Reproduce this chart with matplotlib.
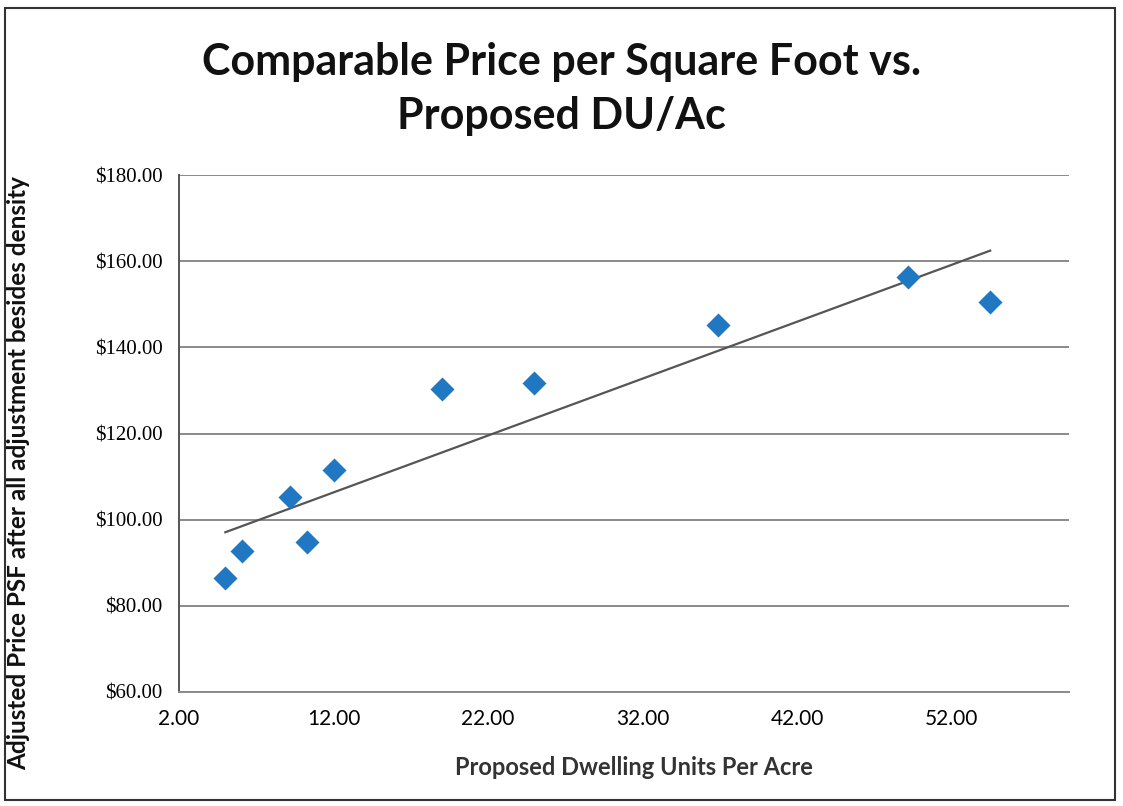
import numpy as np
import matplotlib
matplotlib.use("Agg")
import matplotlib.pyplot as plt
from matplotlib.patches import Rectangle

# Data
du_per_acre = [5.0, 6.1, 9.2, 10.3, 12.0, 19.0, 25.0, 36.9, 49.2, 54.5]
price_psf = [86.5, 92.7, 105.3, 94.8, 111.5, 130.3, 131.7, 145.2, 156.3, 150.5]
x_ticks = [2, 12, 22, 32, 42, 52]
y_ticks = [60, 80, 100, 120, 140, 160, 180]

title = "Comparable Price per Square Foot vs.\nProposed DU/Ac"
x_label = "Proposed Dwelling Units Per Acre"
y_label = "Adjusted Price PSF after all adjustment besides density"

fig = plt.figure(figsize=(11.23, 8.06), dpi=100)
W, H = 1123, 806
left, right, top, bottom = 179, 1069, 175, 692
ax = fig.add_axes([left / W, 1 - bottom / H, (right - left) / W, (bottom - top) / H])

x = np.array(du_per_acre)
y = np.array(price_psf)
ax.scatter(x, y, marker="D", s=150, color="#1f78c1", zorder=3, linewidths=0)

coef = np.polyfit(x, y, 1)
xs = np.array([x.min(), x.max()])
ax.plot(xs, np.polyval(coef, xs), color="#555555", lw=1.6, zorder=2)

ax.set_xlim(2, 59.6)
ax.set_ylim(60, 180)
ax.set_xticks(x_ticks)
ax.set_xticklabels([f"{v:.2f}" for v in x_ticks], fontsize=15, family="Lato")
ax.set_yticks(y_ticks)
ax.set_yticklabels([f"${v:.2f}" for v in y_ticks], fontsize=15, family="Liberation Serif")
ax.tick_params(length=0, pad=12)
ax.yaxis.grid(True, color="#8a8a8a", lw=1.4)
ax.set_axisbelow(True)
for s in ["top", "right"]:
    ax.spines[s].set_visible(False)
ax.spines["left"].set_color("#555555")
ax.spines["bottom"].set_color("#8a8a8a")
ax.spines["left"].set_linewidth(1.4)
ax.spines["bottom"].set_linewidth(1.4)

ax.set_xlabel(x_label, fontsize=17, fontweight="bold", family="Lato", color="#333333")
ax.xaxis.set_label_coords((634 - left) / (right - left), -(756 - bottom) / (bottom - top))
ax.set_ylabel(y_label, fontsize=17.5, fontweight="bold", family="Lato", color="#111111")
ax.yaxis.set_label_coords(-(left - 30) / (right - left), (bottom - 473) / (bottom - top))

fig.text(0.5, 1 - 89 / H, title, ha="center", va="center", fontsize=31, fontweight="bold",
         family="Lato", color="#111111", linespacing=1.45)

fig.patches.append(Rectangle((5 / W, 6 / H), 1110 / W, 792 / H, transform=fig.transFigure,
                             fill=False, edgecolor="#333333", lw=1.5))

fig.savefig("out.png", dpi=100)
